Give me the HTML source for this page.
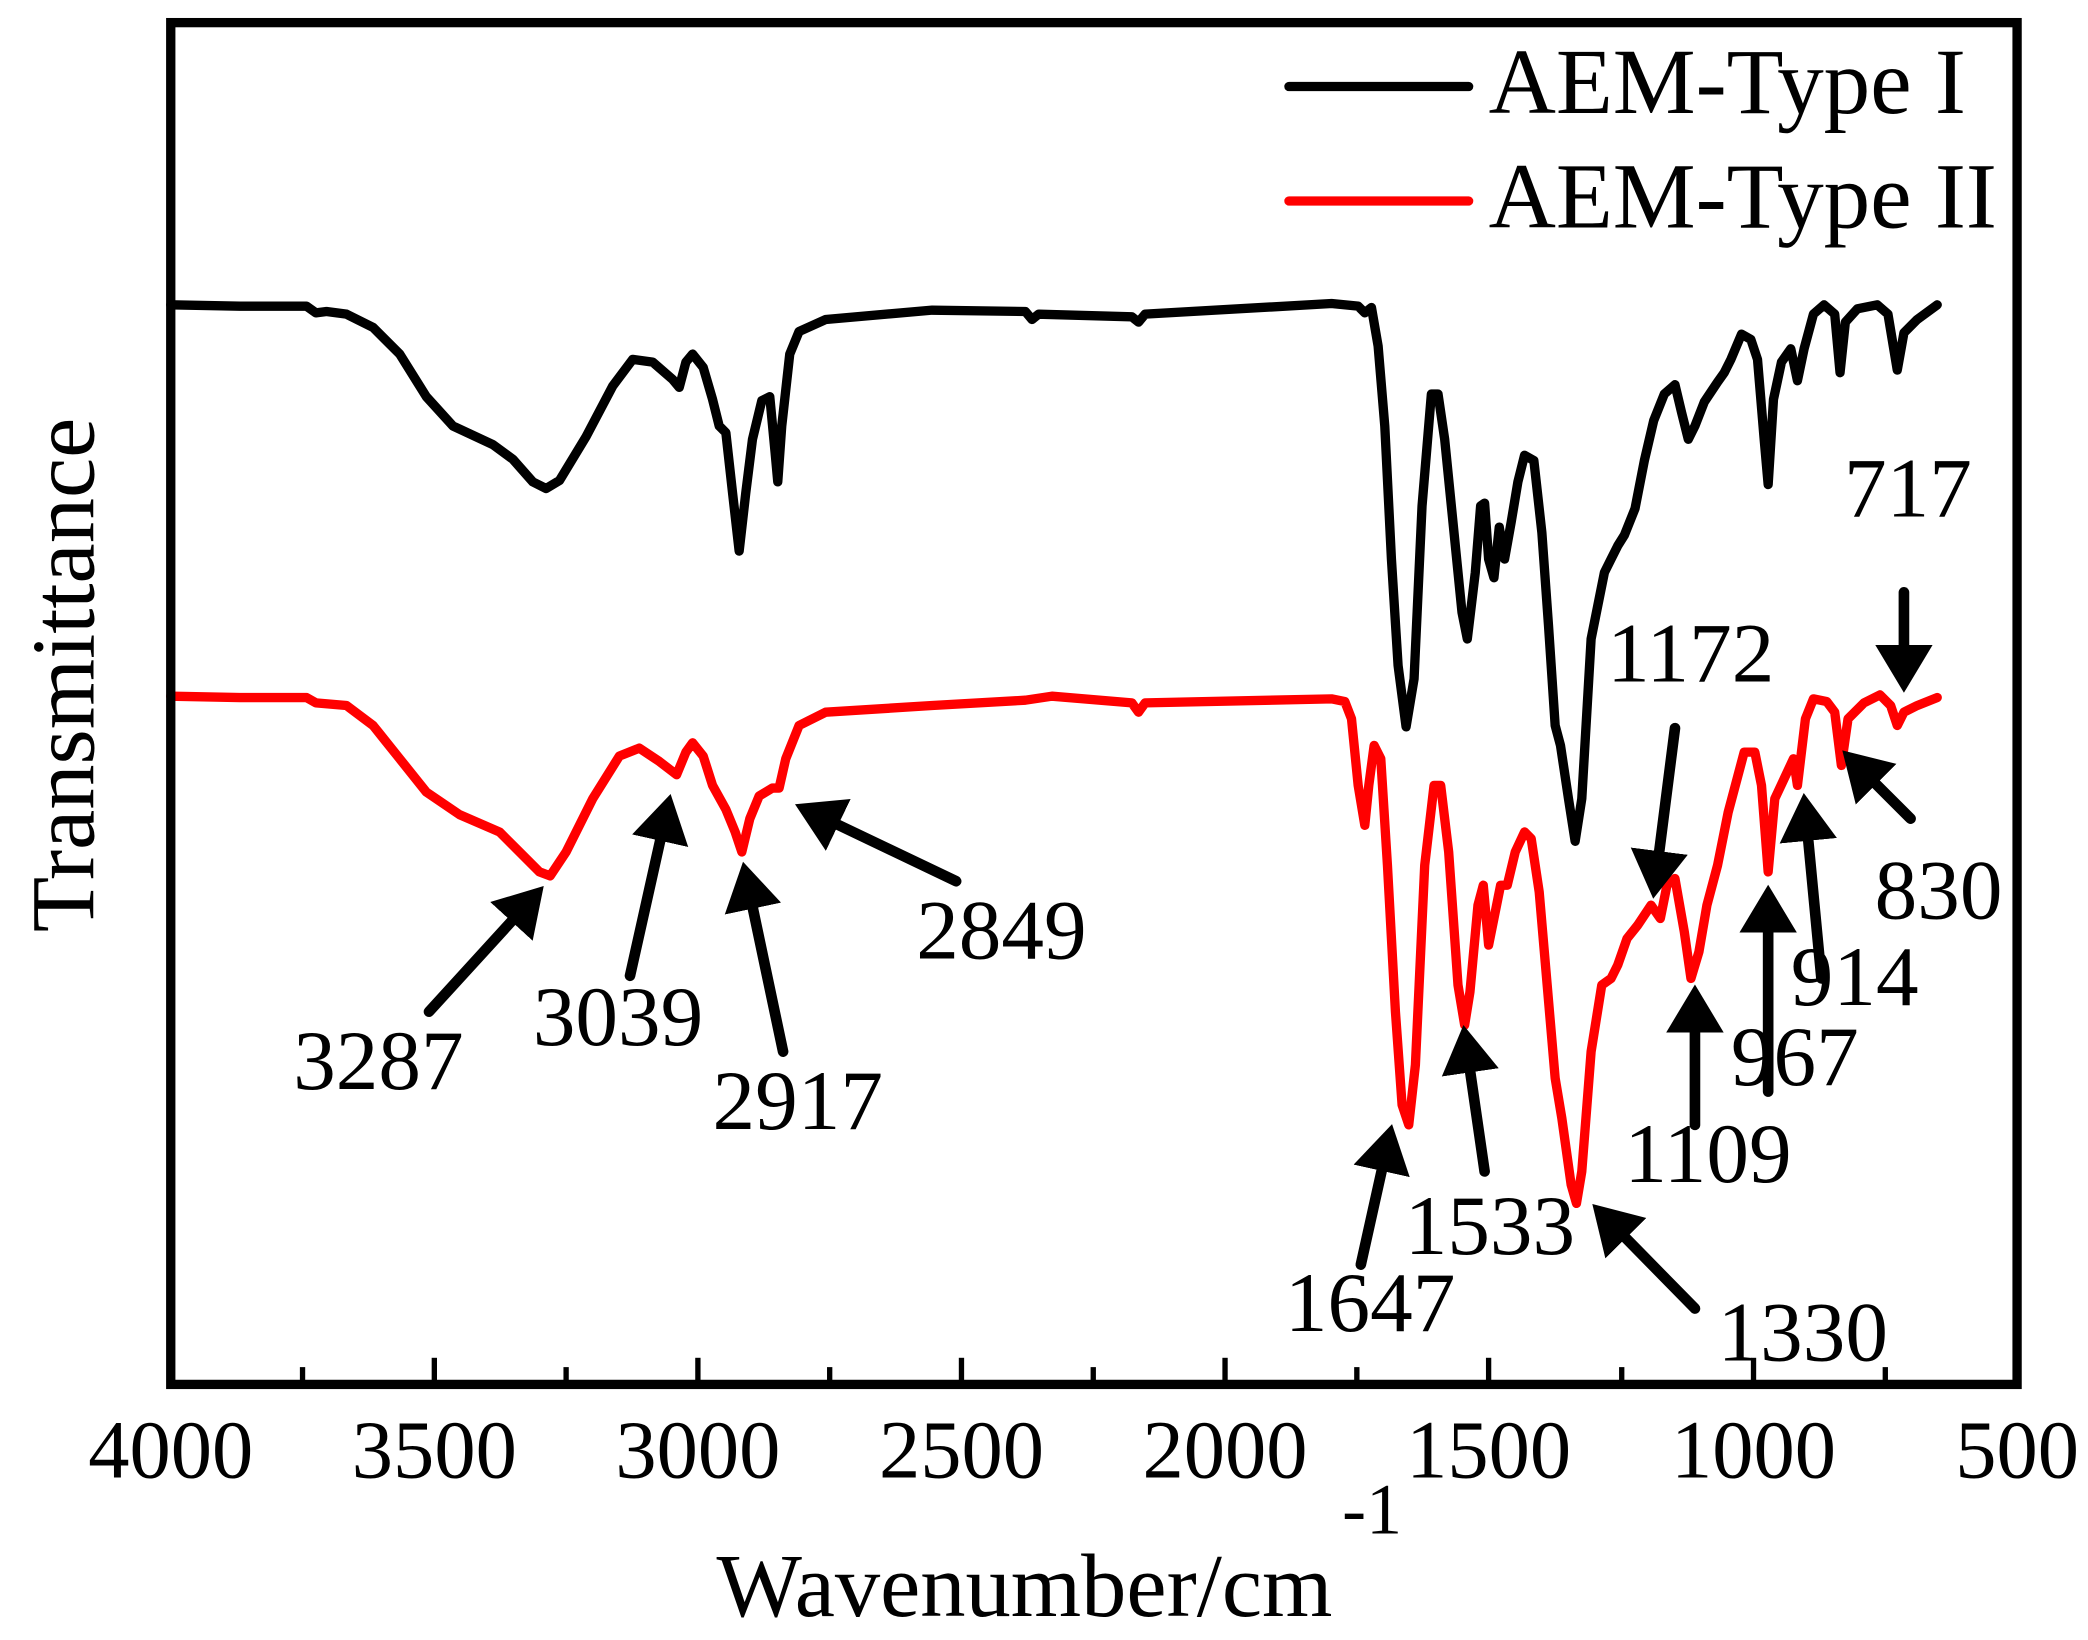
<!DOCTYPE html>
<html><head><meta charset="utf-8"><style>
html,body{margin:0;padding:0;background:#fff;}
svg{display:block;}
text{font-family:"Liberation Serif",serif;fill:#000;}
</style></head><body>
<svg width="2088" height="1640" viewBox="0 0 1568 1232" xmlns="http://www.w3.org/2000/svg">
<defs>
<marker id="ah" markerWidth="6" markerHeight="6" refX="0.2" refY="3" orient="auto" markerUnits="strokeWidth">
<path d="M0,0.3 L4.5,3 L0,5.7 Z" fill="#000"/>
</marker>
</defs>
<polyline fill="none" stroke="#000" stroke-width="7" stroke-linejoin="round" stroke-linecap="round" points="128,229 180,230 230,230 237,235 245,234 260,236 280,246 300,266 320,298 340,320 370,334 385,345 400,362 410,367 420,361 440,328 460,290 475,270 490,272 505,285 510,291 515,272 520,266 528,276 535,300 540,320 545,325 550,370 555,414 560,370 565,330 572,301 578,298 582,340 584,362 587,320 593,266 600,249 620,240 700,233 770,234 775,240 780,236 850,238 855,242 860,236 1000,228 1020,230 1025,235 1030,231 1035,260 1040,320 1045,420 1050,500 1056,546 1062,510 1068,380 1075,296 1080,296 1085,330 1092,400 1098,460 1102,480 1108,430 1112,380 1115,378 1118,420 1122,434 1126,396 1130,420 1135,392 1140,362 1145,342 1152,346 1158,400 1163,470 1168,545 1172,560 1178,600 1183,632 1188,600 1195,480 1205,430 1210,420 1215,410 1220,402 1228,382 1235,346 1242,316 1250,296 1258,289 1263,310 1268,330 1273,320 1280,302 1290,287 1295,280 1300,270 1308,251 1315,255 1320,270 1325,330 1328,364 1332,300 1338,272 1345,262 1350,286 1355,262 1362,236 1370,229 1378,236 1382,280 1386,242 1395,232 1410,229 1418,236 1425,278 1430,250 1440,240 1455,229"/>
<polyline fill="none" stroke="#f00" stroke-width="7" stroke-linejoin="round" stroke-linecap="round" points="128,523 180,524 230,524 237,528 260,530 280,545 300,570 320,595 345,612 375,625 390,640 405,655 413,658 425,640 445,600 465,568 480,562 495,572 508,582 515,565 520,558 528,568 535,590 545,608 552,625 557,640 563,615 570,598 580,592 585,592 590,570 600,545 620,535 700,530 770,526 790,523 850,528 855,535 860,528 1000,525 1010,527 1015,540 1020,590 1025,620 1028,590 1032,560 1037,570 1042,650 1048,760 1053,830 1058,845 1063,800 1070,650 1077,590 1082,590 1088,640 1095,740 1100,770 1104,745 1110,680 1114,665 1118,710 1122,690 1127,665 1132,665 1138,640 1145,625 1150,630 1156,670 1162,740 1168,810 1173,840 1180,890 1184,904 1188,880 1195,790 1203,740 1210,735 1215,725 1222,705 1230,695 1240,680 1247,690 1252,665 1258,660 1265,700 1270,735 1276,715 1282,680 1290,650 1298,610 1310,565 1318,565 1323,590 1328,655 1333,600 1340,585 1347,570 1350,590 1356,540 1362,525 1372,527 1378,535 1383,575 1388,540 1400,528 1412,522 1420,530 1425,545 1430,535 1440,530 1455,524"/>
<g stroke="#000" stroke-width="8" stroke-linecap="round" marker-end="url(#ah)" fill="none">
<line x1="322" y1="760" x2="385" y2="691"/>
<line x1="473" y1="733" x2="496" y2="630"/>
<line x1="588" y1="790" x2="565" y2="681"/>
<line x1="718" y1="662" x2="628" y2="619"/>
<line x1="1022" y1="950" x2="1038" y2="878"/>
<line x1="1115" y1="880" x2="1104" y2="804"/>
<line x1="1273" y1="983" x2="1220" y2="929"/>
<line x1="1258" y1="547" x2="1246" y2="641"/>
<line x1="1273" y1="845" x2="1273" y2="774"/>
<line x1="1328" y1="820" x2="1328" y2="699"/>
<line x1="1368" y1="735" x2="1358" y2="630"/>
<line x1="1435" y1="615" x2="1408" y2="588"/>
<line x1="1430" y1="445" x2="1430" y2="486"/>
</g>
<g font-size="64">
<text x="220" y="818">3287</text>
<text x="400" y="785">3039</text>
<text x="535" y="848">2917</text>
<text x="688" y="720">2849</text>
<text x="965" y="1000">1647</text>
<text x="1055" y="942">1533</text>
<text x="1290" y="1022">1330</text>
<text x="1207" y="512">1172</text>
<text x="1220" y="888">1109</text>
<text x="1300" y="815">967</text>
<text x="1345" y="755">914</text>
<text x="1408" y="690">830</text>
<text x="1385" y="388">717</text>
</g>
<rect x="128" y="17" width="1387" height="1023" fill="none" stroke="#000" stroke-width="7"/>
<g stroke="#000" stroke-width="4">
<line x1="326" y1="1040" x2="326" y2="1020"/>
<line x1="524" y1="1040" x2="524" y2="1020"/>
<line x1="722" y1="1040" x2="722" y2="1020"/>
<line x1="920" y1="1040" x2="920" y2="1020"/>
<line x1="1118" y1="1040" x2="1118" y2="1020"/>
<line x1="1317" y1="1040" x2="1317" y2="1020"/>
<line x1="227" y1="1040" x2="227" y2="1027"/>
<line x1="425" y1="1040" x2="425" y2="1027"/>
<line x1="623" y1="1040" x2="623" y2="1027"/>
<line x1="821" y1="1040" x2="821" y2="1027"/>
<line x1="1019" y1="1040" x2="1019" y2="1027"/>
<line x1="1218" y1="1040" x2="1218" y2="1027"/>
<line x1="1416" y1="1040" x2="1416" y2="1027"/>
</g>
<g font-size="62" text-anchor="middle">
<text x="128" y="1110">4000</text>
<text x="326" y="1110">3500</text>
<text x="524" y="1110">3000</text>
<text x="722" y="1110">2500</text>
<text x="920" y="1110">2000</text>
<text x="1118" y="1110">1500</text>
<text x="1317" y="1110">1000</text>
<text x="1515" y="1110">500</text>
</g>
<text x="538" y="1214" font-size="68">Wavenumber/cm</text>
<text x="1008" y="1152" font-size="54">-1</text>
<text transform="translate(70,507) rotate(-90)" font-size="68" text-anchor="middle">Transmittance</text>
<line x1="968" y1="65" x2="1103" y2="65" stroke="#000" stroke-width="7" stroke-linecap="round"/>
<line x1="968" y1="151" x2="1103" y2="151" stroke="#f00" stroke-width="7" stroke-linecap="round"/>
<text x="1118" y="85" font-size="70">AEM-Type I</text>
<text x="1118" y="171" font-size="70">AEM-Type II</text>
</svg>
</body></html>
